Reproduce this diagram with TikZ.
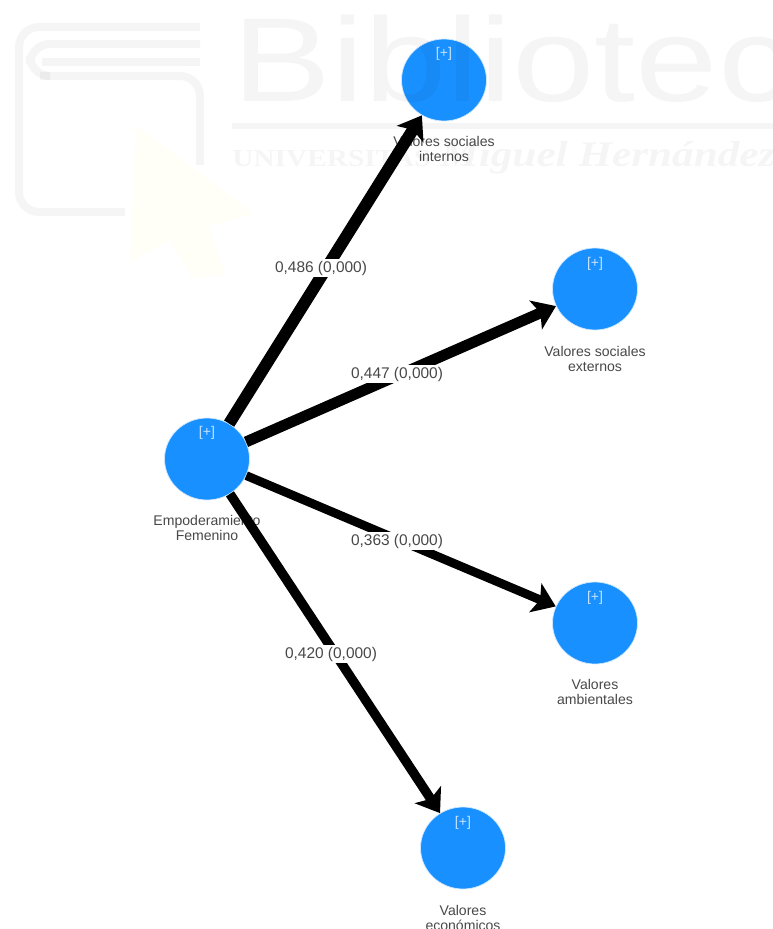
\documentclass[tikz,border=0pt]{standalone}
\usepackage{fontspec}
\setmainfont{Liberation Sans}
\newfontfamily\wmserif{Liberation Serif}
\usetikzlibrary{arrows.meta}
\usetikzlibrary{shapes.geometric}
\definecolor{lvblue}{HTML}{1890FF}
\definecolor{capgray}{HTML}{484848}
\begin{document}
\begin{tikzpicture}[x=0.02cm,y=-0.02cm,>={Stealth[length=0.44cm,width=0.62cm,inset=0.1cm]},
	lv/.style={ellipse,fill=lvblue,draw=white!80!lvblue,line width=0.4pt,minimum width=1.7cm,minimum height=1.64cm,inner sep=0pt},
	lvplus/.style={text=white!75!lvblue,font=\fontsize{8}{8}\selectfont},
	lvname/.style={text=capgray,align=center,font=\fontsize{8}{8.9}\selectfont},
	coef/.style={fill=white,text=capgray,inner sep=1.2pt,font=\fontsize{8.8}{9}\selectfont},
	wm/.style={black,opacity=0.04},
	]
	\useasboundingbox (0,0) rectangle (773,929);
	% names sit under the arrows
	\node[lvname] (nameEF) at (207,528) {Empoderamiento\\Femenino};
	\node[lvname] (nameVSI) at (444,149) {Valores sociales\\internos};
	\node[lvname] (nameVSE) at (595,359) {Valores sociales\\externos};
	\node[lvname] (nameVA) at (595,692) {Valores\\ambientales};
	\node[lvname] (nameVE) at (463,918) {Valores\\económicos};
	% constructs
	\node[lv] (EF) at (207,459) {};
	\node[lv] (VSI) at (444,80) {};
	\node[lv] (VSE) at (595,289) {};
	\node[lv] (VA) at (595,623) {};
	\node[lv] (VE) at (463,848) {};
	\node[lvplus] (plusEF) at (207,433) {[+]};
	\node[lvplus] (plusVSI) at (444,54) {[+]};
	\node[lvplus] (plusVSE) at (595,264) {[+]};
	\node[lvplus] (plusVA) at (595,598) {[+]};
	\node[lvplus] (plusVE) at (463,823) {[+]};
	% paths
	\draw[->,line width=6.8pt] (EF) -- (VSI);
	\draw[->,line width=6.2pt] (EF) -- (VSE);
	\draw[->,line width=5pt] (EF) -- (VA);
	\draw[->,line width=5.4pt] (EF) -- (VE);
	\node[coef] (c1) at (321,268) {0,486 (0,000)};
	\node[coef] (c2) at (397,374) {0,447 (0,000)};
	\node[coef] (c3) at (397,541) {0,363 (0,000)};
	\node[coef] (c4) at (331,654) {0,420 (0,000)};
	% watermark
	\node[wm,anchor=base west,inner sep=0pt,xscale=1.24,font=\fontsize{68}{68}\selectfont] (wmA) at (232,102) {Biblioteca};
	\node[wm,anchor=base west,inner sep=0pt,xscale=1.2,font=\wmserif\bfseries\fontsize{13.9}{14}\selectfont] (wmB) at (232,167) {UNIVERSITAS};
	\node[wm,anchor=base west,inner sep=0pt,xscale=1.2,font=\wmserif\bfseries\itshape\fontsize{20.5}{21}\selectfont] (wmC) at (440,167) {Miguel Hernández};
	\draw[wm,line width=3pt] (232,126) -- (773,126);
	\begin{scope}[wm,line width=4.6pt,rounded corners=0.4cm]
		\draw (200,27) -- (19,27) -- (19,212) -- (125,212);
		\draw (200,165) -- (200,76) -- (40,76);
		\draw (200,44) -- (30,44) -- (30,76) -- (45,76);
		\draw (200,62) -- (42,62);
	\end{scope}
	\fill[yellow,opacity=0.03] (136,126) -- (254,214) -- (208,226) -- (226,275) -- (192,278) -- (170,240) -- (130,262) -- cycle;
\end{tikzpicture}
\end{document}
